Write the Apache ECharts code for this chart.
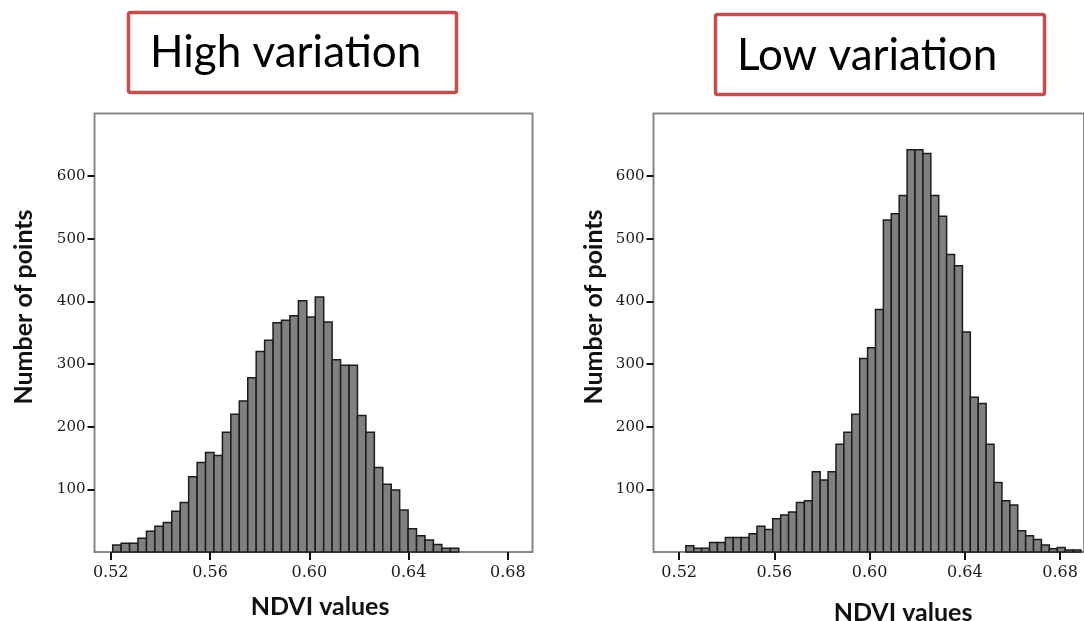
<!DOCTYPE html>
<html>
<head>
<meta charset="utf-8">
<script src="https://cdn.jsdelivr.net/npm/echarts@6/dist/echarts.min.js"></script>
<style>
html,body{margin:0;padding:0;background:#fff;}
#chart{width:1084px;height:621px;}
</style>
</head>
<body>
<div id="chart"></div>
<script>
// ---- data ----
const panelTitles = ['High variation', 'Low variation'];
const xAxisTitle = 'NDVI values';
const yAxisTitle = 'Number of points';
const xTickValues = [0.52, 0.56, 0.60, 0.64, 0.68];
const yTickValues = [100, 200, 300, 400, 500, 600];

// High variation histogram
const highBinStart = 0.5208;
const highBinWidth = 0.0034;
const highCounts = [11, 14, 14, 22, 33, 41, 47, 65, 79, 120, 143, 159, 154, 191, 220, 241, 278, 320, 338, 366, 370, 377, 401, 375, 407, 367, 307, 298, 298, 218, 191, 135, 108, 99, 67, 37, 26, 19, 12, 6, 6];

// Low variation histogram
const lowBinStart = 0.5228;
const lowBinWidth = 0.00332;
const lowCounts = [10, 6, 6, 15, 15, 23, 23, 23, 29, 41, 36, 53, 59, 64, 79, 82, 128, 115, 128, 172, 191, 220, 309, 326, 387, 530, 540, 569, 642, 642, 636, 569, 536, 475, 457, 351, 247, 237, 172, 111, 82, 75, 34, 26, 20, 11, 5, 7, 3, 3];

function toBins(start, width, counts) {
  return counts.map((c, i) => [start + i * width, start + (i + 1) * width, c]);
}

const chart = echarts.init(document.getElementById('chart'), null, {renderer: 'canvas'});

function renderItem(params, api) {
  const x0 = api.value(0), x1 = api.value(1), y = api.value(2);
  const p0 = api.coord([x0, y]);
  const p1 = api.coord([x1, 0]);
  return {
    type: 'rect',
    shape: {x: p0[0], y: p0[1], width: p1[0] - p0[0], height: p1[1] - p0[1]},
    style: {fill: '#808080', stroke: '#1c1c1c', lineWidth: 1.5}
  };
}

const serifFont = 'DejaVu Serif';
const sansFont = 'Lato';

function xAxisCfg(gridIndex, min, max) {
  return {
    type: 'value', gridIndex, min, max,
    axisLine: {show: false},
    splitLine: {show: false},
    axisTick: {show: true, customValues: xTickValues, length: 8, lineStyle: {color: '#111', width: 2}},
    axisLabel: {
      show: true, customValues: xTickValues, margin: 13,
      fontFamily: serifFont, fontSize: 16, color: '#1a1a1a',
      formatter: v => v.toFixed(2)
    }
  };
}
function yAxisCfg(gridIndex) {
  return {
    type: 'value', gridIndex, min: 0, max: 700,
    axisLine: {show: false},
    splitLine: {show: false},
    axisTick: {show: true, customValues: yTickValues, length: 7, lineStyle: {color: '#111', width: 2}},
    axisLabel: {
      show: true, customValues: yTickValues, margin: 9,
      fontFamily: serifFont, fontSize: 15, color: '#1a1a1a',
      formatter: v => String(v)
    }
  };
}

const option = {
  backgroundColor: '#ffffff',
  animation: false,
  grid: [
    {left: 94.5, top: 113.5, width: 438, height: 438.5, show: true, borderColor: '#868686', borderWidth: 2, backgroundColor: 'transparent'},
    {left: 653.5, top: 113.5, width: 436, height: 438.5, show: true, borderColor: '#868686', borderWidth: 2, backgroundColor: 'transparent'}
  ],
  xAxis: [xAxisCfg(0, 0.51347, 0.68991), xAxisCfg(1, 0.50921, 0.69008)],
  yAxis: [yAxisCfg(0), yAxisCfg(1)],
  series: [
    {type: 'custom', xAxisIndex: 0, yAxisIndex: 0, renderItem, encode: {x: [0, 1], y: 2}, data: toBins(highBinStart, highBinWidth, highCounts)},
    {type: 'custom', xAxisIndex: 1, yAxisIndex: 1, renderItem, encode: {x: [0, 1], y: 2}, data: toBins(lowBinStart, lowBinWidth, lowCounts)}
  ],
  graphic: [
    {type: 'rect', shape: {x: 128.5, y: 12.5, width: 328, height: 80, r: 2}, style: {fill: '#fff', stroke: '#c0504d', lineWidth: 3.5}},
    {type: 'text', x: 150, y: 53, style: {text: panelTitles[0], font: '44px ' + sansFont, fill: '#000', textVerticalAlign: 'middle', textAlign: 'left'}},
    {type: 'rect', shape: {x: 715.5, y: 14.5, width: 329, height: 80, r: 2}, style: {fill: '#fff', stroke: '#c0504d', lineWidth: 3.5}},
    {type: 'text', x: 737, y: 56, style: {text: panelTitles[1], font: '44px ' + sansFont, fill: '#000', textVerticalAlign: 'middle', textAlign: 'left'}},
    {type: 'text', x: 23.5, y: 307, rotation: Math.PI / 2, style: {text: yAxisTitle, font: 'bold 25px ' + sansFont, fill: '#111', textAlign: 'center', textVerticalAlign: 'middle'}},
    {type: 'text', x: 593.5, y: 307, rotation: Math.PI / 2, style: {text: yAxisTitle, font: 'bold 25px ' + sansFont, fill: '#111', textAlign: 'center', textVerticalAlign: 'middle'}},
    {type: 'text', x: 320, y: 607, style: {text: xAxisTitle, font: 'bold 25px ' + sansFont, fill: '#111', textAlign: 'center', textVerticalAlign: 'middle'}},
    {type: 'text', x: 903, y: 613, style: {text: xAxisTitle, font: 'bold 25px ' + sansFont, fill: '#111', textAlign: 'center', textVerticalAlign: 'middle'}}
  ]
};
chart.setOption(option);
</script>
</body>
</html>
